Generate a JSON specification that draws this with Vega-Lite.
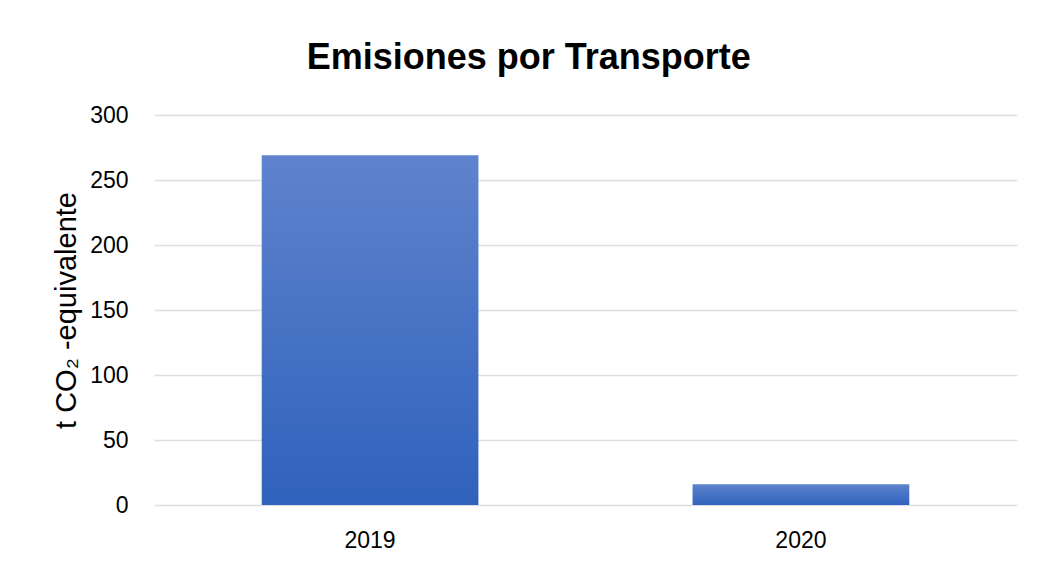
{
  "$schema": "https://vega.github.io/schema/vega-lite/v6.json",
  "autosize": "none",
  "width": 863,
  "height": 390,
  "padding": {"left": 154, "top": 115, "right": 21, "bottom": 63},
  "background": "white",
  "title": {
    "text": "Emisiones por Transporte",
    "font": "Liberation Sans",
    "fontSize": 36,
    "fontWeight": "bold",
    "color": "#000000",
    "anchor": "middle",
    "frame": "bounds",
    "offset": 27,
    "dx": -6
  },
  "data": {
    "values": [
      {"year": "2019", "value": 269},
      {"year": "2020", "value": 16}
    ]
  },
  "mark": {
    "type": "bar",
    "color": {
      "gradient": "linear",
      "x1": 0, "y1": 0, "x2": 0, "y2": 1,
      "stops": [
        {"offset": 0, "color": "#5F83CD"},
        {"offset": 1, "color": "#2F62BC"}
      ]
    }
  },
  "encoding": {
    "x": {
      "field": "year",
      "type": "nominal",
      "scale": {"paddingInner": 0.497, "paddingOuter": 0.25},
      "axis": {
        "title": null,
        "labelAngle": 0,
        "domain": false,
        "ticks": false,
        "labelFont": "Liberation Sans",
        "labelFontSize": 23,
        "labelColor": "#000000",
        "labelPadding": 24
      }
    },
    "y": {
      "field": "value",
      "type": "quantitative",
      "scale": {"domain": [0, 300], "nice": false},
      "axis": {
        "title": "t  CO₂ -equivalente",
        "titleFont": "Liberation Sans",
        "titleFontSize": 29,
        "titleFontWeight": "normal",
        "titleColor": "#000000",
        "titlePadding": 8,
        "values": [0, 50, 100, 150, 200, 250, 300],
        "domain": false,
        "ticks": false,
        "grid": true,
        "gridColor": "#DCDFE4",
        "gridWidth": 1.4,
        "labelFont": "Liberation Sans",
        "labelFontSize": 23,
        "labelColor": "#000000",
        "labelPadding": 26
      }
    }
  },
  "config": {
    "view": {"stroke": null}
  }
}
